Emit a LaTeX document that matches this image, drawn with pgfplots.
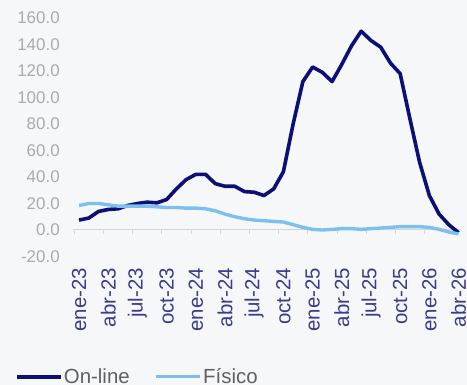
\documentclass[border=0pt]{standalone}
\usepackage{pgfplots}
\usepackage{pgfplotstable}
\pgfplotsset{compat=1.18}
\usepackage{fontspec}
\setmainfont{Liberation Sans}
\definecolor{bgcol}{HTML}{F5F7F8}
\definecolor{online}{HTML}{0E0E78}
\definecolor{fisico}{HTML}{7DC0F0}
\definecolor{ylab}{HTML}{A8ACB0}
\definecolor{xlab}{HTML}{3A3A8E}
\definecolor{leg}{HTML}{606060}
\definecolor{zline}{HTML}{D9D4CE}

\pgfplotstableread{
m online fisico
0 7.5 18.5
1 9 20
2 14 20
3 15.5 19
4 16 18
5 18.5 18
6 20 18
7 21 18
8 20.5 17.5
9 23 17
10 31 17
11 38 16.5
12 42 16.5
13 42 16
14 35 14.5
15 33 12
16 33 10
17 29 8.5
18 28.5 7.5
19 26 7
20 31 6.5
21 44 6
22 80 4
23 112 2
24 123 0.5
25 119 0
26 112 0.5
27 125 1
28 139 1
29 150 0.5
30 143 1
31 138 1.5
32 126 2
33 118 2.5
34 84 2.5
35 51 2.5
36 26 2
37 12 0.5
38 4 -1.5
39 -2 -3
}\datatable

\begin{document}
\begin{tikzpicture}
\path[fill=bgcol, use as bounding box] (-73.2bp,-128.5bp) rectangle (393.8bp,256.5bp);
\begin{axis}[at={(0,0)}, anchor=south west, scale only axis,
  width=387.3bp, height=238.5bp,
  xmin=-0.6, xmax=39.2, ymin=-20, ymax=160,
  axis x line=middle, axis y line=none,
  axis line style={zline, line width=1bp, -},
  xtick={-0.5,2.5,...,38.5}, xticklabels={}, ytick=\empty,
  major tick length=4bp, tick align=outside,
  tick style={zline, line width=0.8bp}]
\end{axis}
\begin{axis}[at={(0,0)}, anchor=south west, scale only axis,
  width=387.3bp, height=238.5bp,
  xmin=-0.6, xmax=39.2, ymin=-20, ymax=160,
  axis line style={draw=none}, tick style={draw=none}, major tick length=0pt,
  ytick={-20,0,...,160},
  yticklabel style={font=\fontsize{17}{19}\selectfont, text=ylab, xshift=-10bp,
    /pgf/number format/fixed, /pgf/number format/fixed zerofill,
    /pgf/number format/precision=1, /pgf/number format/assume math mode=true},
  xtick={0,3,...,39},
  xticklabels={ene-23,abr-23,jul-23,oct-23,ene-24,abr-24,jul-24,oct-24,ene-25,abr-25,jul-25,oct-25,ene-26,abr-26},
  xticklabel style={rotate=90, anchor=east, font=\fontsize{20.5}{22}\selectfont, text=xlab, xshift=-8bp},
  legend style={at={(rel axis cs:-0.150,-0.504)}, anchor=west, draw=none, fill=none,
    legend columns=2, font=\fontsize{20.5}{22}\selectfont, text=leg, inner sep=0pt,
    nodes={inner xsep=1bp},
    /tikz/every even column/.append style={column sep=24bp}},
  legend image code/.code={\draw[#1] (0bp,0bp) -- (44bp,0bp);},
]
\addplot[online, line width=3.6bp, line join=round] table[x=m, y=online] {\datatable};
\addlegendentry{On-line}
\addplot[fisico, line width=3.4bp, line join=round] table[x=m, y=fisico] {\datatable};
\addlegendentry{Físico}
\end{axis}
\end{tikzpicture}
\end{document}
